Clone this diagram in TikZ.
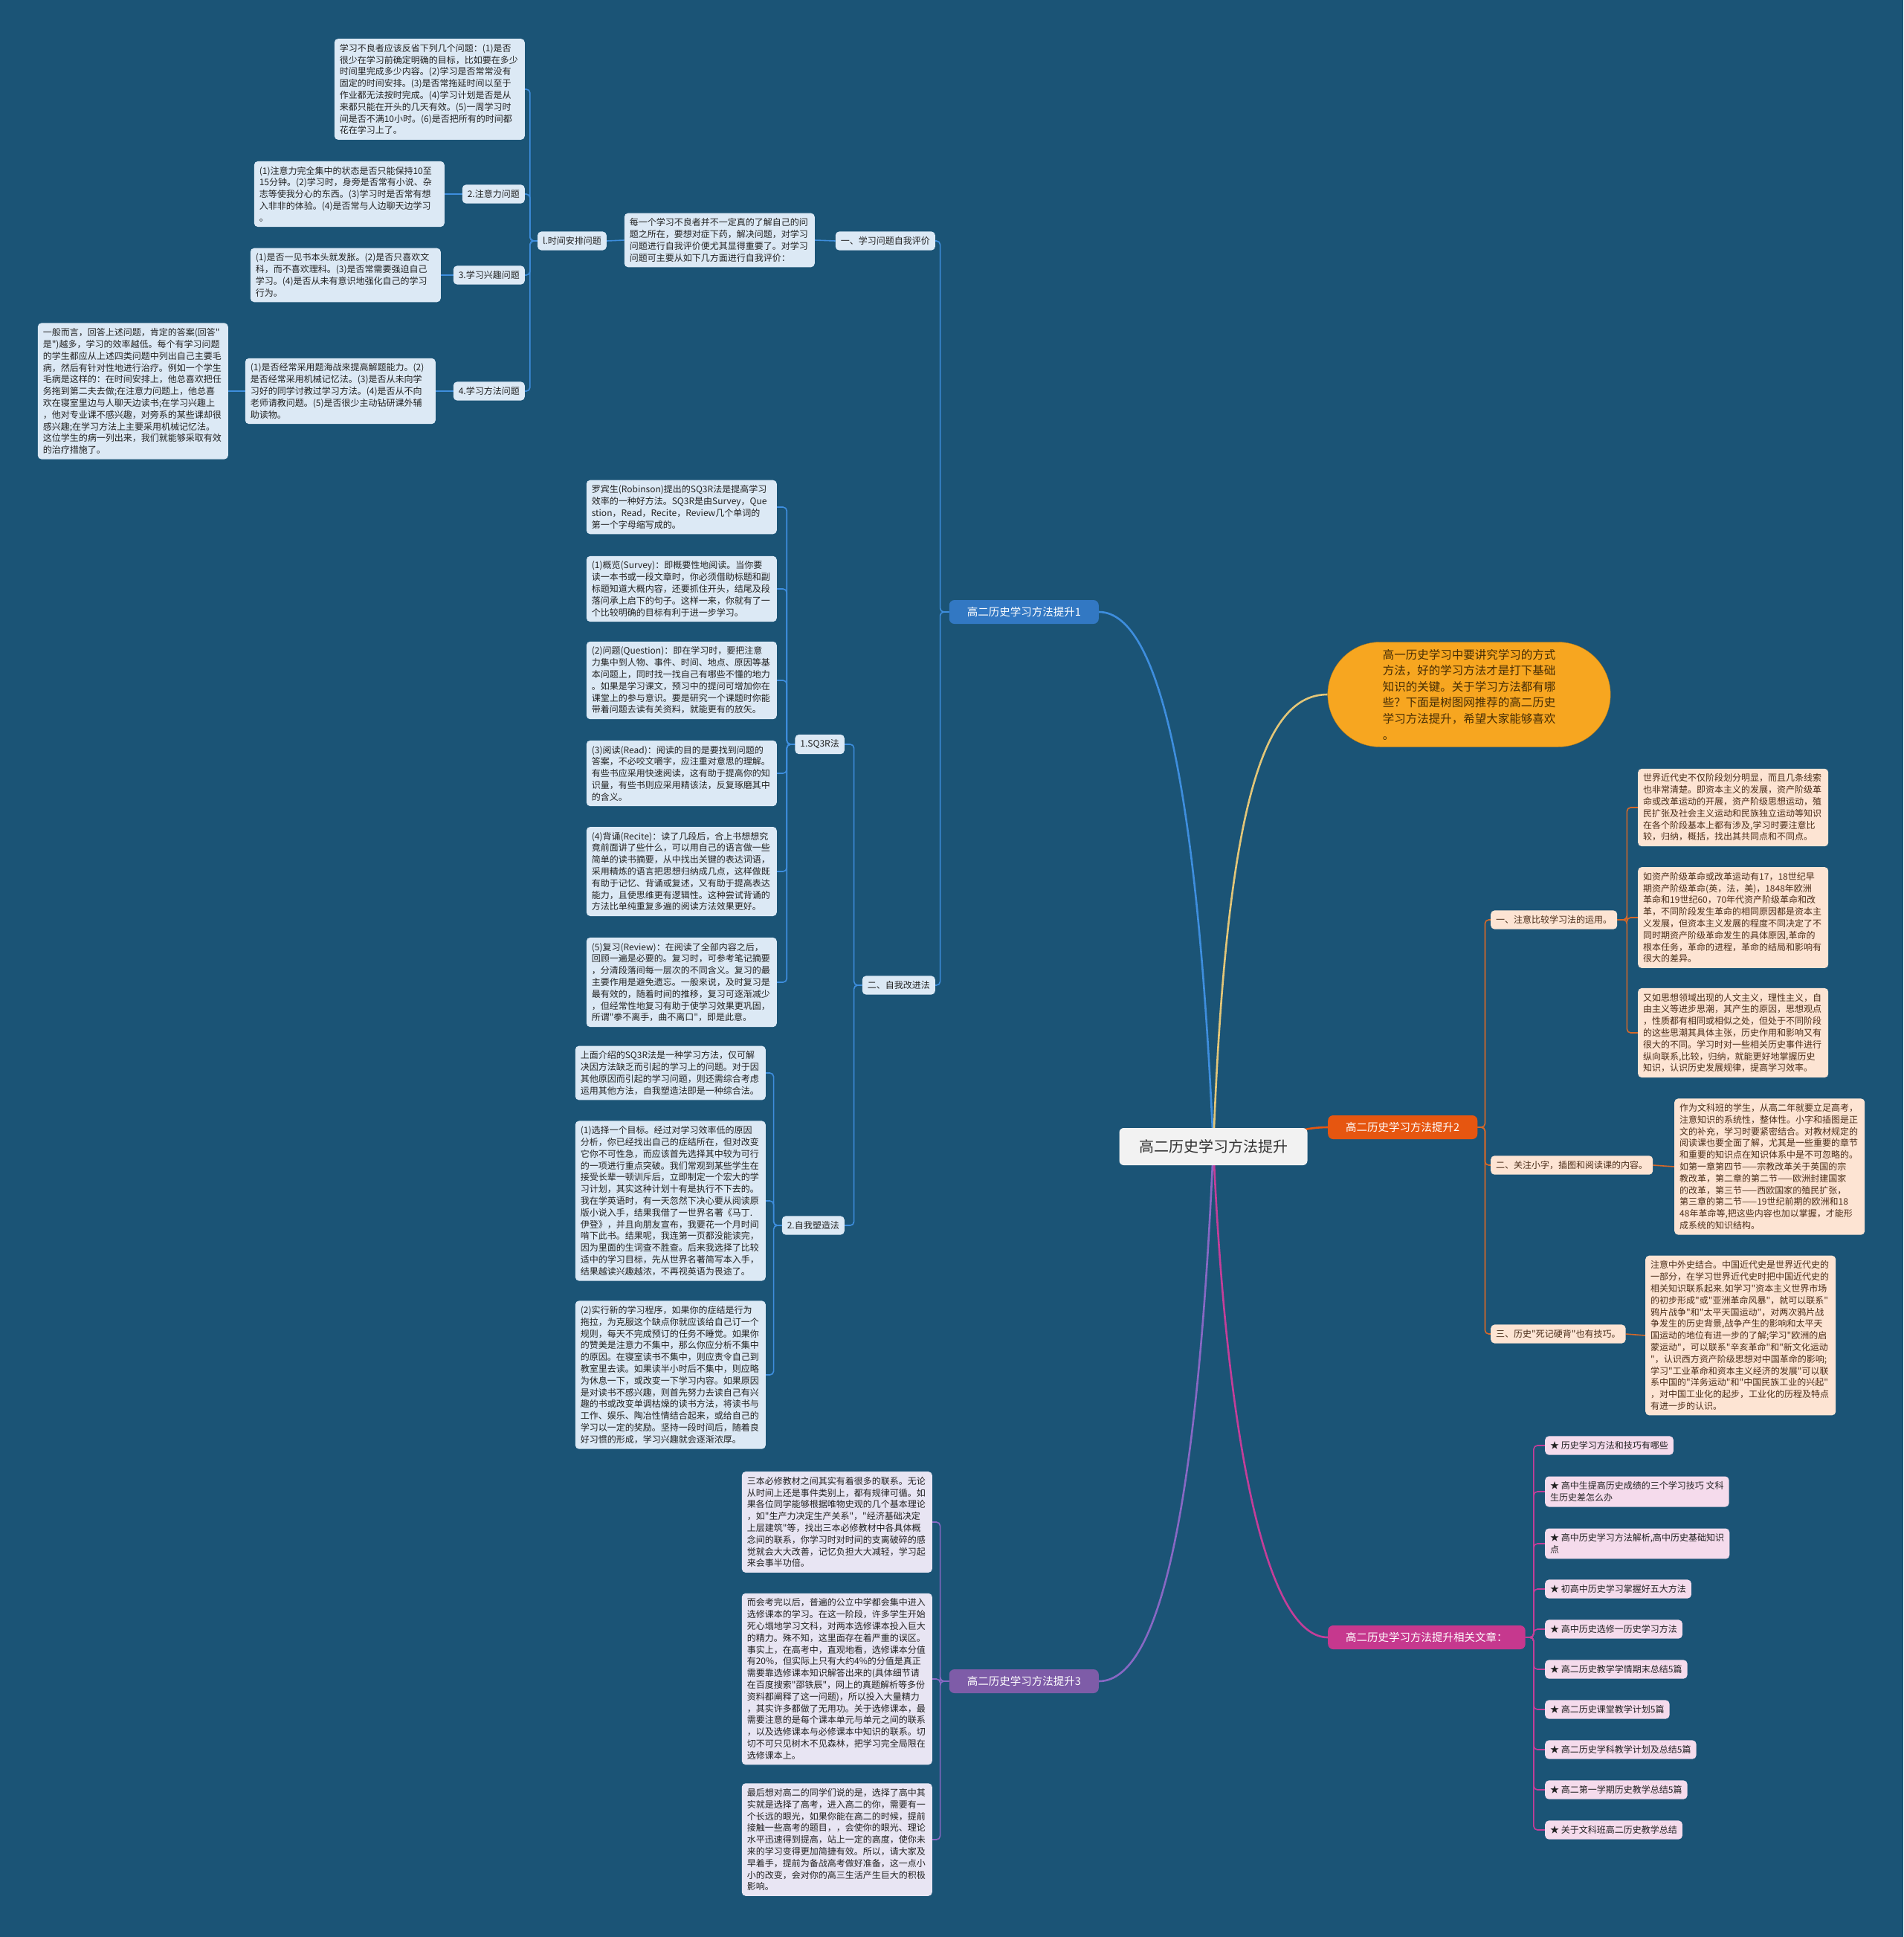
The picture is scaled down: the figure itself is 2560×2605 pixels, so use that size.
\documentclass[tikz,border=0pt]{standalone}
\usepackage{fontspec}
\setmainfont{Noto Sans CJK SC}[Ligatures=TeXOff]
\usetikzlibrary{backgrounds, shapes.misc}
\definecolor{mapbg}{RGB}{27,84,118}
\definecolor{rootfill}{RGB}{242,242,242}
\definecolor{roottext}{RGB}{51,51,51}
\definecolor{bubblefill}{RGB}{247,166,32}
\definecolor{bubbletext}{RGB}{70,45,5}
\definecolor{bubbleline}{RGB}{227,198,120}
\definecolor{bluefill}{RGB}{50,120,195}
\definecolor{blueline}{RGB}{62,142,222}
\definecolor{bluebox}{RGB}{220,233,245}
\definecolor{orangefill}{RGB}{230,86,16}
\definecolor{orangeline}{RGB}{214,104,40}
\definecolor{peachbox}{RGB}{253,228,211}
\definecolor{peachtext}{RGB}{75,45,25}
\definecolor{purplefill}{RGB}{126,92,168}
\definecolor{purpleline}{RGB}{136,104,196}
\definecolor{lavenderbox}{RGB}{232,229,243}
\definecolor{magentafill}{RGB}{198,56,142}
\definecolor{magentaline}{RGB}{196,62,153}
\definecolor{pinkbox}{RGB}{245,219,236}
\definecolor{boxtext}{RGB}{34,34,34}

\begin{document}
\begin{tikzpicture}[
  x=1pt, y=-1pt,
  every node/.style={font=\fontsize{12}{15.8}\selectfont, text=boxtext},
  rootbox/.style={rectangle, rounded corners=6pt, fill=rootfill, text=roottext,
                  font=\fontsize{20}{24}\selectfont, minimum width=253pt, minimum height=50pt},
  bubble/.style={rounded rectangle, fill=bubblefill, draw=bubblefill!75!black, text=bubbletext,
                 align=left, font=\fontsize{15.5}{21.6}\selectfont,
                 minimum width=387pt, minimum height=141pt},
  branch/.style={rectangle, rounded corners=7pt, text=white,
                 font=\fontsize{14.5}{17}\selectfont, inner xsep=24pt, minimum height=32pt},
  lbl/.style={rectangle, rounded corners=5pt, inner xsep=7pt, inner ysep=7pt},
  txt/.style={lbl, text width=242pt, align=left},
  bluebx/.style={fill=bluebox},
  peachbx/.style={fill=peachbox, text=peachtext},
  lavbx/.style={fill=lavenderbox},
  pinkbx/.style={fill=pinkbox},
  link/.style={line width=1.6pt, rounded corners=5pt},
  curve/.style={line width=2.6pt}
]
  %% -- canvas
  \useasboundingbox (0,0) rectangle (2560,2605);

  %% -- centre and main branches
  \node[rootbox] (root) at (1632,1542) {高二历史学习方法提升};
  \node[bubble] (intro) at (1976,934) {高一历史学习中要讲究学习的方式\\
方法，好的学习方法才是打下基础\\
知识的关键。关于学习方法都有哪\\
些？下面是树图网推荐的高二历史\\
学习方法提升，希望大家能够喜欢\\
。};
  \node[branch, fill=bluefill, anchor=east] (b1) at (1478,823) {高二历史学习方法提升1};
  \node[branch, fill=orangefill, anchor=west] (b2) at (1786,1516) {高二历史学习方法提升2};
  \node[branch, fill=purplefill, anchor=east] (b3) at (1478,2261) {高二历史学习方法提升3};
  \node[branch, fill=magentafill, anchor=west] (b4) at (1786,2202) {高二历史学习方法提升相关文章：};

  %% -- branch 1: self evaluation
  \node[lbl, bluebx, anchor=east] (s1) at (1258,324) {一、学习问题自我评价};
  \node[txt, bluebx, anchor=east] (s1txt) at (1096,323) {每一个学习不良者并不一定真的了解自己的问\\
题之所在，要想对症下药，解决问题，对学习\\
问题进行自我评价便尤其显得重要了。对学习\\
问题可主要从如下几方面进行自我评价：};
  \node[lbl, bluebx, anchor=east] (t1) at (816,324) {l.时间安排问题};
  \node[txt, bluebx, anchor=east] (t1txt) at (706,120) {学习不良者应该反省下列几个问题：(1)是否\\
很少在学习前确定明确的目标，比如要在多少\\
时间里完成多少内容。(2)学习是否常常没有\\
固定的时间安排。(3)是否常拖延时间以至于\\
作业都无法按时完成。(4)学习计划是否是从\\
来都只能在开头的几天有效。(5)一周学习时\\
间是否不满10小时。(6)是否把所有的时间都\\
花在学习上了。};
  \node[lbl, bluebx, anchor=east] (t2) at (706,261) {2.注意力问题};
  \node[txt, bluebx, anchor=east] (t2txt) at (598,261) {(1)注意力完全集中的状态是否只能保持10至\\
15分钟。(2)学习时，身旁是否常有小说、杂\\
志等使我分心的东西。(3)学习时是否常有想\\
入非非的体验。(4)是否常与人边聊天边学习\\
。};
  \node[lbl, bluebx, anchor=east] (t3) at (706,370) {3.学习兴趣问题};
  \node[txt, bluebx, anchor=east] (t3txt) at (593,370) {(1)是否一见书本头就发胀。(2)是否只喜欢文\\
科，而不喜欢理科。(3)是否常需要强迫自己\\
学习。(4)是否从未有意识地强化自己的学习\\
行为。};
  \node[lbl, bluebx, anchor=east] (t4) at (706,526) {4.学习方法问题};
  \node[txt, bluebx, anchor=east] (t4txt) at (586,526) {(1)是否经常采用题海战来提高解题能力。(2)\\
是否经常采用机械记忆法。(3)是否从未向学\\
习好的同学讨教过学习方法。(4)是否从不向\\
老师请教问题。(5)是否很少主动钻研课外辅\\
助读物。};
  \node[txt, bluebx, anchor=east] (t4far) at (307,526) {一般而言，回答上述问题，肯定的答案(回答"\\
是")越多，学习的效率越低。每个有学习问题\\
的学生都应从上述四类问题中列出自己主要毛\\
病，然后有针对性地进行治疗。例如一个学生\\
毛病是这样的：在时间安排上，他总喜欢把任\\
务拖到第二夫去做;在注意力问题上，他总喜\\
欢在寝室里边与人聊天边读书;在学习兴趣上\\
，他对专业课不感兴趣，对旁系的某些课却很\\
感兴趣;在学习方法上主要采用机械记忆法。\\
这位学生的病一列出来，我们就能够采取有效\\
的治疗措施了。};

  %% -- branch 1: self improvement
  \node[lbl, bluebx, anchor=east] (s2) at (1258,1325) {二、自我改进法};
  \node[lbl, bluebx, anchor=east] (q0) at (1136,1001) {1.SQ3R法};
  \node[txt, bluebx, anchor=east] (qa) at (1045,682) {罗宾生(Robinson)提出的SQ3R法是提高学习\\
效率的一种好方法。SQ3R是由Survey，Que\\
stion，Read，Recite，Review几个单词的\\
第一个字母缩写成的。};
  \node[txt, bluebx, anchor=east] (qb) at (1045,792) {(1)概览(Survey)：即概要性地阅读。当你要\\
读一本书或一段文章时，你必须借助标题和副\\
标题知道大概内容，还要抓住开头，结尾及段\\
落问承上启下的句子。这样一来，你就有了一\\
个比较明确的目标有利于进一步学习。};
  \node[txt, bluebx, anchor=east] (qc) at (1045,915) {(2)问题(Question)：即在学习时，要把注意\\
力集中到人物、事件、时间、地点、原因等基\\
本问题上，同时找一找自己有哪些不懂的地力\\
。如果是学习课文，预习中的提问可增加你在\\
课堂上的参与意识。要是研究一个课题时你能\\
带着问题去读有关资料，就能更有的放矢。};
  \node[txt, bluebx, anchor=east] (qd) at (1045,1040) {(3)阅读(Read)：阅读的目的是要找到问题的\\
答案，不必咬文嚼字，应注重对意思的理解。\\
有些书应采用快速阅读，这有助于提高你的知\\
识量，有些书则应采用精该法，反复琢磨其中\\
的含义。};
  \node[txt, bluebx, anchor=east] (qe) at (1045,1172) {(4)背诵(Recite)：读了几段后，合上书想想究\\
竟前面讲了些什么，可以用自己的语言做一些\\
简单的读书摘要，从中找出关键的表达词语，\\
采用精炼的语言把思想归纳成几点，这样做既\\
有助于记忆、背诵或复述，又有助于提高表达\\
能力，且使思维更有逻辑性。这种尝试背诵的\\
方法比单纯重复多遍的阅读方法效果更好。};
  \node[txt, bluebx, anchor=east] (qf) at (1045,1321) {(5)复习(Review)：在阅读了全部内容之后，\\
回顾一遍是必要的。复习时，可参考笔记摘要\\
，分清段落间每一层次的不同含义。复习的最\\
主要作用是避免遗忘。一般来说，及时复习是\\
最有效的，随着时间的推移，复习可逐渐减少\\
，但经常性地复习有助于使学习效果更巩固，\\
所谓"拳不离手，曲不离口"，即是此意。};
  \node[lbl, bluebx, anchor=east] (r0) at (1136,1648) {2.自我塑造法};
  \node[txt, bluebx, anchor=east] (ra) at (1030,1443) {上面介绍的SQ3R法是一种学习方法，仅可解\\
决因方法缺乏而引起的学习上的问题。对于因\\
其他原因而引起的学习问题，则还需综合考虑\\
运用其他方法，自我塑造法即是一种综合法。};
  \node[txt, bluebx, anchor=east] (rb) at (1030,1615) {(1)选择一个目标。经过对学习效率低的原因\\
分析，你已经找出自己的症结所在，但对改变\\
它你不可性急，而应该首先选择其中较为可行\\
的一项进行重点突破。我们常观到某些学生在\\
接受长辈一顿训斥后，立即制定一个宏大的学\\
习计划，其实这种计划十有是执行不下去的。\\
我在学英语时，有一天忽然下决心要从阅读原\\
版小说入手，结果我借了一世界名著《马丁.\\
伊登》，并且向朋友宣布，我要花一个月时间\\
啃下此书。结果呢，我连第一页都没能读完，\\
因为里面的生词查不胜查。后来我选择了比较\\
适中的学习目标，先从世界名著简写本入手，\\
结果越读兴趣越浓，不再视英语为畏途了。};
  \node[txt, bluebx, anchor=east] (rc) at (1030,1849) {(2)实行新的学习程序，如果你的症结是行为\\
拖拉，为克服这个缺点你就应该给自己订一个\\
规则，每天不完成预订的任务不睡觉。如果你\\
的赞美是注意力不集中，那么你应分析不集中\\
的原因。在寝室读书不集中，则应责令自己到\\
教室里去读。如果读半小时后不集中，则应略\\
为休息一下，或改变一下学习内容。如果原因\\
是对读书不感兴趣，则首先努力去读自己有兴\\
趣的书或改变单调枯燥的读书方法，将读书与\\
工作、娱乐、陶冶性情结合起来，或给自己的\\
学习以一定的奖励。坚持一段时间后，随着良\\
好习惯的形成，学习兴趣就会逐渐浓厚。};

  %% -- branch 2
  \node[lbl, peachbx, anchor=west] (p1) at (2005,1237) {一、注意比较学习法的运用。};
  \node[lbl, peachbx, anchor=west] (p2) at (2005,1567) {二、关注小字，插图和阅读课的内容。};
  \node[lbl, peachbx, anchor=west] (p3) at (2005,1794) {三、历史"死记硬背"也有技巧。};
  \node[txt, peachbx, anchor=west] (pa) at (2203,1086) {世界近代史不仅阶段划分明显，而且几条线索\\
也非常清楚。即资本主义的发展，资产阶级革\\
命或改革运动的开展，资产阶级思想运动，殖\\
民扩张及社会主义运动和民族独立运动等知识\\
在各个阶段基本上都有涉及,学习时要注意比\\
较，归纳，概括，找出其共同点和不同点。};
  \node[txt, peachbx, anchor=west] (pb) at (2203,1234) {如资产阶级革命或改革运动有17，18世纪早\\
期资产阶级革命(英，法，美)，1848年欧洲\\
革命和19世纪60，70年代资产阶级革命和改\\
革，不同阶段发生革命的相同原因都是资本主\\
义发展，但资本主义发展的程度不同决定了不\\
同时期资产阶级革命发生的具体原因,革命的\\
根本任务，革命的进程，革命的结局和影响有\\
很大的差异。};
  \node[txt, peachbx, anchor=west] (pc) at (2203,1389) {又如思想领域出现的人文主义，理性主义，自\\
由主义等进步思潮，其产生的原因，思想观点\\
，性质都有相同或相似之处，但处于不同阶段\\
的这些思潮其具体主张，历史作用和影响又有\\
很大的不同。学习时对一些相关历史事件进行\\
纵向联系,比较，归纳，就能更好地掌握历史\\
知识，认识历史发展规律，提高学习效率。};
  \node[txt, peachbx, anchor=west] (pd) at (2252,1569) {作为文科班的学生，从高二年就要立足高考，\\
注意知识的系统性，整体性。小字和插图是正\\
文的补充，学习时要紧密结合。对教材规定的\\
阅读课也要全面了解，尤其是一些重要的章节\\
和重要的知识点在知识体系中是不可忽略的。\\
如第一章第四节——宗教改革关于英国的宗\\
教改革，第二章的第二节——欧洲封建国家\\
的改革，第三节——西欧国家的殖民扩张，\\
第三章的第二节——19世纪前期的欧洲和18\\
48年革命等,把这些内容也加以掌握，才能形\\
成系统的知识结构。};
  \node[txt, peachbx, anchor=west] (pe) at (2213,1796) {注意中外史结合。中国近代史是世界近代史的\\
一部分，在学习世界近代史时把中国近代史的\\
相关知识联系起来.如学习"资本主义世界市场\\
的初步形成"或"亚洲革命风暴"，就可以联系"\\
鸦片战争"和"太平天国运动"，对两次鸦片战\\
争发生的历史背景,战争产生的影响和太平天\\
国运动的地位有进一步的了解;学习"欧洲的启\\
蒙运动"，可以联系"辛亥革命"和"新文化运动\\
"，认识西方资产阶级思想对中国革命的影响;\\
学习"工业革命和资本主义经济的发展"可以联\\
系中国的"洋务运动"和"中国民族工业的兴起"\\
，对中国工业化的起步，工业化的历程及特点\\
有进一步的认识。};

  %% -- branch 3
  \node[txt, lavbx, anchor=east] (ua) at (1254,2047) {三本必修教材之间其实有着很多的联系。无论\\
从时间上还是事件类别上，都有规律可循。如\\
果各位同学能够根据唯物史观的几个基本理论\\
，如"生产力决定生产关系"，"经济基础决定\\
上层建筑"等，找出三本必修教材中各具体概\\
念间的联系，你学习时对时间的支离破碎的感\\
觉就会大大改善，记忆负担大大减轻，学习起\\
来会事半功倍。};
  \node[txt, lavbx, anchor=east] (ub) at (1254,2258) {而会考完以后，普遍的公立中学都会集中进入\\
选修课本的学习。在这一阶段，许多学生开始\\
死心塌地学习文科，对两本选修课本投入巨大\\
的精力。殊不知，这里面存在着严重的误区。\\
事实上，在高考中，直观地看，选修课本分值\\
有20\%，但实际上只有大约4\%的分值是真正\\
需要靠选修课本知识解答出来的(具体细节请\\
在百度搜索"邵铁辰"，网上的真题解析等多份\\
资料都阐释了这一问题)，所以投入大量精力\\
，其实许多都做了无用功。关于选修课本，最\\
需要注意的是每个课本单元与单元之间的联系\\
，以及选修课本与必修课本中知识的联系。切\\
切不可只见树木不见森林，把学习完全局限在\\
选修课本上。};
  \node[txt, lavbx, anchor=east] (uc) at (1254,2474) {最后想对高二的同学们说的是，选择了高中其\\
实就是选择了高考，进入高二的你，需要有一\\
个长远的眼光，如果你能在高二的时候，提前\\
接触一些高考的题目，，会使你的眼光、理论\\
水平迅速得到提高，站上一定的高度，使你未\\
来的学习变得更加简捷有效。所以，请大家及\\
早着手，提前为备战高考做好准备，这一点小\\
小的改变，会对你的高三生活产生巨大的积极\\
影响。};

  %% -- branch 4: related articles
  \node[lbl, pinkbx, anchor=west] (v1) at (2078,1944) {★ 历史学习方法和技巧有哪些};
  \node[lbl, pinkbx, anchor=west, align=left] (v2) at (2078,2006) {★ 高中生提高历史成绩的三个学习技巧 文科\\生历史差怎么办};
  \node[lbl, pinkbx, anchor=west, align=left] (v3) at (2078,2076) {★ 高中历史学习方法解析,高中历史基础知识\\点};
  \node[lbl, pinkbx, anchor=west] (v4) at (2078,2137) {★ 初高中历史学习掌握好五大方法};
  \node[lbl, pinkbx, anchor=west] (v5) at (2078,2191) {★ 高中历史选修一历史学习方法};
  \node[lbl, pinkbx, anchor=west] (v6) at (2078,2245) {★ 高二历史教学学情期末总结5篇};
  \node[lbl, pinkbx, anchor=west] (v7) at (2078,2299) {★ 高二历史课堂教学计划5篇};
  \node[lbl, pinkbx, anchor=west] (v8) at (2078,2353) {★ 高二历史学科教学计划及总结5篇};
  \node[lbl, pinkbx, anchor=west] (v9) at (2078,2407) {★ 高二第一学期历史教学总结5篇};
  \node[lbl, pinkbx, anchor=west] (v10) at (2078,2461) {★ 关于文科班高二历史教学总结};

  %% -- connectors
  \begin{scope}[on background layer]
    \fill[mapbg] (0,0) rectangle (2560,2605);

    \draw[curve, blueline] (root.center) .. controls (1612,1090) and (1565,823) .. (b1.east);
    \draw[curve, bubbleline] (root.center) .. controls (1650,1060) and (1705,934) .. (intro.west);
    \draw[curve, orangefill] (root.center) .. controls (1720,1542) and (1730,1516) .. (b2.west);
    \draw[curve, magentaline] (root.center) .. controls (1650,1950) and (1705,2202) .. (b4.west);
    \draw[curve, purpleline] (root.center) .. controls (1612,2000) and (1565,2261) .. (b3.east);

    \foreach \c in {s1,s2}
      \draw[link, blueline] (b1.west) -- ++(-12,0) |- (\c.east);
    \draw[link, blueline] (s1.west) -- (s1txt.east);
    \draw[link, blueline] (s1txt.west) -- (t1.east);
    \foreach \c in {t1txt,t2,t3,t4}
      \draw[link, blueline] (t1.west) -- ++(-10,0) |- (\c.east);
    \draw[link, blueline] (t2.west) -- (t2txt.east);
    \draw[link, blueline] (t3.west) -- (t3txt.east);
    \draw[link, blueline] (t4.west) -- (t4txt.east);
    \draw[link, blueline] (t4txt.west) -- (t4far.east);
    \foreach \c in {q0,r0}
      \draw[link, blueline] (s2.west) -- ++(-11,0) |- (\c.east);
    \foreach \c in {qa,qb,qc,qd,qe,qf}
      \draw[link, blueline] (q0.west) -- ++(-11,0) |- (\c.east);
    \foreach \c in {ra,rb,rc}
      \draw[link, blueline] (r0.west) -- ++(-11,0) |- (\c.east);

    \foreach \c in {p1,p2,p3}
      \draw[link, orangeline] (b2.east) -- ++(10,0) |- (\c.west);
    \foreach \c in {pa,pb,pc}
      \draw[link, orangeline] (p1.east) -- ++(13,0) |- (\c.west);
    \draw[link, orangeline] (p2.east) -- (pd.west);
    \draw[link, orangeline] (p3.east) -- (pe.west);

    \foreach \c in {ua,ub,uc}
      \draw[link, purpleline] (b3.west) -- ++(-12,0) |- (\c.east);

    \foreach \c in {v1,v2,v3,v4,v5,v6,v7,v8,v9,v10}
      \draw[link, magentaline] (b4.east) -- ++(11,0) |- (\c.west);
  \end{scope}
\end{tikzpicture}
\end{document}
